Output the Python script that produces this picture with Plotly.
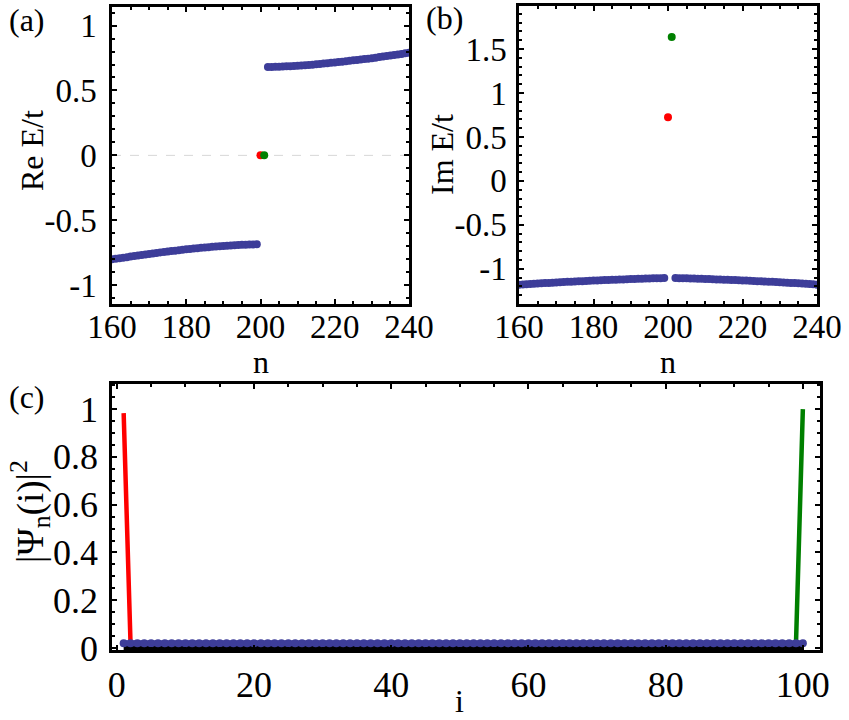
import plotly.graph_objects as go

# ---------------- data ----------------
# panel (a)/(b): eigenvalue index n
n_lower = list(range(160, 200))
n_upper = list(range(202, 241))
n_red = [200]
n_green = [201]

re_lower = [-0.800, -0.796, -0.792, -0.788, -0.784, -0.780, -0.776, -0.772, -0.768, -0.764,
            -0.760, -0.756, -0.752, -0.748, -0.745, -0.741, -0.737, -0.734, -0.730, -0.727,
            -0.724, -0.721, -0.718, -0.715, -0.712, -0.709, -0.707, -0.704, -0.702, -0.700,
            -0.698, -0.696, -0.694, -0.692, -0.691, -0.689, -0.688, -0.687, -0.686, -0.685]
re_upper = [0.680, 0.681, 0.682, 0.683, 0.684, 0.686, 0.687, 0.689, 0.691, 0.693,
            0.695, 0.697, 0.699, 0.702, 0.704, 0.707, 0.710, 0.713, 0.716, 0.719,
            0.722, 0.725, 0.728, 0.732, 0.735, 0.738, 0.742, 0.745, 0.749, 0.753,
            0.757, 0.761, 0.765, 0.769, 0.773, 0.777, 0.781, 0.786, 0.790]
re_red = [0.0]
re_green = [0.0]

im_lower = [-1.180, -1.177, -1.175, -1.172, -1.170, -1.167, -1.165, -1.162, -1.160, -1.157,
            -1.155, -1.153, -1.150, -1.148, -1.146, -1.144, -1.142, -1.140, -1.138, -1.136,
            -1.134, -1.132, -1.130, -1.128, -1.126, -1.125, -1.123, -1.121, -1.120, -1.118,
            -1.117, -1.115, -1.114, -1.112, -1.111, -1.110, -1.108, -1.107, -1.106, -1.105]
im_upper = [-1.105, -1.106, -1.107, -1.108, -1.110, -1.111, -1.112, -1.114, -1.115, -1.117,
            -1.118, -1.120, -1.121, -1.123, -1.125, -1.126, -1.128, -1.130, -1.132, -1.134,
            -1.136, -1.138, -1.140, -1.142, -1.144, -1.146, -1.148, -1.150, -1.153, -1.155,
            -1.157, -1.160, -1.162, -1.165, -1.167, -1.170, -1.172, -1.175, -1.180]
im_red = [0.724]
im_green = [1.636]

# panel (c): site index i
i_sites = list(range(1, 101))
psi_bulk = [
    0.02, 0.02, 0.02, 0.02, 0.02, 0.02, 0.02, 0.02, 0.02, 0.02,
    0.02, 0.02, 0.02, 0.02, 0.02, 0.02, 0.02, 0.02, 0.02, 0.02,
    0.02, 0.02, 0.02, 0.02, 0.02, 0.02, 0.02, 0.02, 0.02, 0.02,
    0.02, 0.02, 0.02, 0.02, 0.02, 0.02, 0.02, 0.02, 0.02, 0.02,
    0.02, 0.02, 0.02, 0.02, 0.02, 0.02, 0.02, 0.02, 0.02, 0.02,
    0.02, 0.02, 0.02, 0.02, 0.02, 0.02, 0.02, 0.02, 0.02, 0.02,
    0.02, 0.02, 0.02, 0.02, 0.02, 0.02, 0.02, 0.02, 0.02, 0.02,
    0.02, 0.02, 0.02, 0.02, 0.02, 0.02, 0.02, 0.02, 0.02, 0.02,
    0.02, 0.02, 0.02, 0.02, 0.02, 0.02, 0.02, 0.02, 0.02, 0.02,
    0.02, 0.02, 0.02, 0.02, 0.02, 0.02, 0.02, 0.02, 0.02, 0.02]
i_red = [1, 2, 3]
psi_red = [0.983, 0.02, 0.0]
i_green = [98, 99, 100]
psi_green = [0.0, 0.02, 1.0]
i_base = [1, 100]
psi_base = [0.0, 0.0]

# tick values
ticks_n = [160, 180, 200, 220, 240]
ticks_re = [-1, -0.5, 0, 0.5, 1]
ticks_im = [-1, -0.5, 0, 0.5, 1, 1.5]
ticks_i = [0, 20, 40, 60, 80, 100]
ticks_psi = [0, 0.2, 0.4, 0.6, 0.8, 1]

# ---------------- style ----------------
BLUE = "rgb(61,61,153)"
RED = "rgb(255,0,0)"
GREEN = "rgb(0,128,0)"
FONT = "Liberation Serif"

W, H = 849, 720


def px_x(p):
    return p / W


def px_y(p):
    return 1 - p / H


fig = go.Figure()

# panel (a)
fig.add_trace(go.Scatter(x=[160, 240], y=[0, 0], mode="lines",
                         line=dict(color="rgb(215,215,215)", width=1, dash="dash"),
                         xaxis="x", yaxis="y", hoverinfo="skip"))
fig.add_trace(go.Scatter(x=n_lower, y=re_lower, mode="markers",
                         marker=dict(color=BLUE, size=8), xaxis="x", yaxis="y"))
fig.add_trace(go.Scatter(x=n_upper, y=re_upper, mode="markers",
                         marker=dict(color=BLUE, size=8), xaxis="x", yaxis="y"))
fig.add_trace(go.Scatter(x=n_red, y=re_red, mode="markers",
                         marker=dict(color=RED, size=8), xaxis="x", yaxis="y"))
fig.add_trace(go.Scatter(x=n_green, y=re_green, mode="markers",
                         marker=dict(color=GREEN, size=8), xaxis="x", yaxis="y"))

# panel (b)
fig.add_trace(go.Scatter(x=n_lower, y=im_lower, mode="markers",
                         marker=dict(color=BLUE, size=8), xaxis="x2", yaxis="y2"))
fig.add_trace(go.Scatter(x=n_upper, y=im_upper, mode="markers",
                         marker=dict(color=BLUE, size=8), xaxis="x2", yaxis="y2"))
fig.add_trace(go.Scatter(x=n_red, y=im_red, mode="markers",
                         marker=dict(color=RED, size=8), xaxis="x2", yaxis="y2"))
fig.add_trace(go.Scatter(x=n_green, y=im_green, mode="markers",
                         marker=dict(color=GREEN, size=8), xaxis="x2", yaxis="y2"))

# panel (c)
fig.add_trace(go.Scatter(x=i_red, y=psi_red, mode="lines",
                         line=dict(color=RED, width=4.5), xaxis="x3", yaxis="y3"))
fig.add_trace(go.Scatter(x=i_green, y=psi_green, mode="lines",
                         line=dict(color=GREEN, width=4.5), xaxis="x3", yaxis="y3"))
fig.add_trace(go.Scatter(x=i_base, y=psi_base, mode="lines",
                         line=dict(color="black", width=4), xaxis="x3", yaxis="y3"))
fig.add_trace(go.Scatter(x=i_sites, y=psi_bulk, mode="lines+markers",
                         line=dict(color=BLUE, width=6),
                         marker=dict(color=BLUE, size=8), xaxis="x3", yaxis="y3"))


def axis(domain, rng, tickvals, dtick_minor, size, standoff, anchor):
    return dict(domain=domain, range=rng, tickvals=tickvals,
                ticktext=[("%g" % v) for v in tickvals],
                showline=True, linecolor="black", linewidth=2.5, mirror="allticks",
                ticks="inside", ticklen=5, tickwidth=2, tickcolor="black",
                minor=dict(ticks="inside", ticklen=3, tickwidth=1.5, tickcolor="black",
                           dtick=dtick_minor, tick0=0, showgrid=False),
                showgrid=False, zeroline=False, anchor=anchor, automargin=False,
                tickfont=dict(family=FONT, size=size, color="black"),
                ticklabelstandoff=standoff, fixedrange=True)


fig.update_layout(
    width=W, height=H, margin=dict(l=0, r=0, t=0, b=0, autoexpand=False),
    paper_bgcolor="white", plot_bgcolor="white", showlegend=False,
    xaxis=axis([px_x(112), px_x(409)], [160, 240], ticks_n, 5, 33, -8, "y"),
    yaxis=axis([px_y(304), px_y(7)], [-1.145, 1.143], ticks_re, 0.1, 33, 6, "x"),
    xaxis2=axis([px_x(519), px_x(817)], [160, 240], ticks_n, 5, 33, -8, "y2"),
    yaxis2=axis([px_y(304), px_y(6)], [-1.40, 1.99], ticks_im, 0.1, 33, 3, "x2"),
    xaxis3=axis([px_x(112), px_x(820)], [-0.7, 102.5], ticks_i, 5, 36, 1, "y3"),
    yaxis3=axis([px_y(650), px_y(384)], [-0.008, 1.105], ticks_psi, 0.05, 36, 4, "x3"),
)

ann_font = dict(family=FONT, size=32, color="black")
annotations = [
    dict(text="(a)", x=px_x(27), y=px_y(20)),
    dict(text="(b)", x=px_x(445), y=px_y(18)),
    dict(text="(c)", x=px_x(27), y=px_y(397)),
    dict(text="Re E/t", x=px_x(32), y=px_y(150), textangle=-90),
    dict(text="n", x=px_x(261), y=px_y(362)),
    dict(text="Im E/t", x=px_x(442), y=px_y(155), textangle=-90),
    dict(text="n", x=px_x(668), y=px_y(362)),
    dict(text="|Ψ<sub>n</sub>(i)|<sup>2</sup>", x=px_x(30), y=px_y(512), textangle=-90,
         font=dict(family=FONT, size=37, color="black")),
    dict(text="i", x=px_x(460), y=px_y(701), font=dict(family=FONT, size=32, color="black")),
]
for a in annotations:
    a.setdefault("font", ann_font)
    a.update(xref="paper", yref="paper", xanchor="center", yanchor="middle",
             showarrow=False)
fig.update_layout(annotations=annotations)

fig.write_html("out.html")
